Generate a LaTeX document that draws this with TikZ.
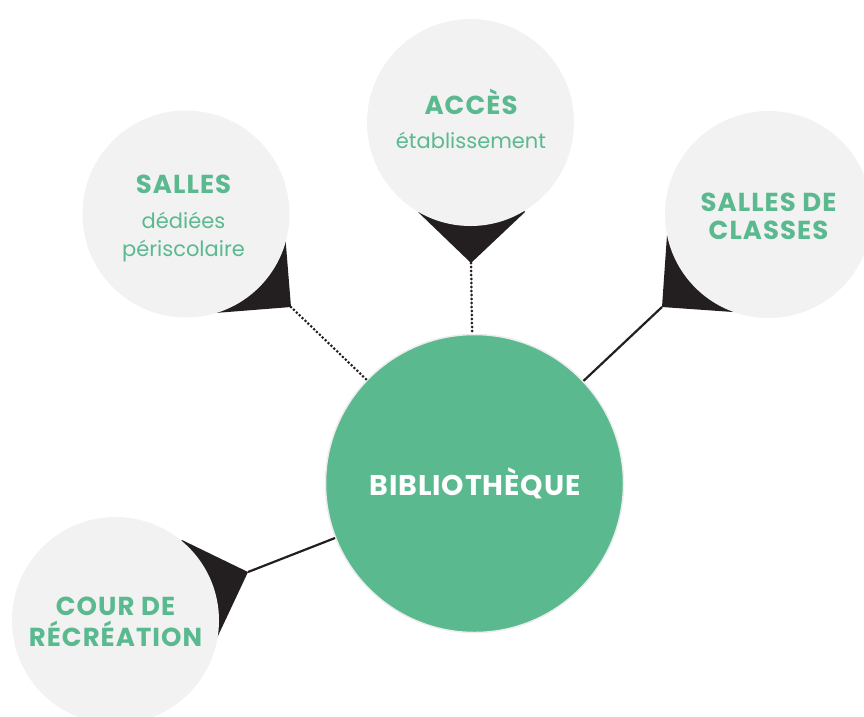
\documentclass[tikz,border=0pt]{standalone}
\usepackage{fontspec}
\setmainfont{Poppins}
\definecolor{vert}{HTML}{5AB98F}
\definecolor{gris}{HTML}{F2F2F2}
\definecolor{noir}{HTML}{231F20}
\definecolor{bord}{HTML}{ECECEC}
\tikzset{
  bubble/.style={circle, fill=gris, draw=none, minimum size=207pt, inner sep=0pt},
  central/.style={circle, fill=vert, draw=bord, line width=1.5pt, minimum size=298pt, inner sep=0pt},
  titre/.style={text=vert, font=\fontsize{26}{29}\selectfont\bfseries\addfontfeatures{LetterSpace=4}, anchor=base, inner sep=0pt},
  soustitre/.style={text=vert, font=\fontsize{21}{29}\selectfont, anchor=base, inner sep=0pt},
  pointer/.style={fill=noir},
  link/.style={draw=noir, line width=2.2pt},
  dotlink/.style={draw=noir, line width=3pt, line cap=round, dash pattern=on 0pt off 4pt},
}
\begin{document}
\begin{tikzpicture}[x=1pt,y=-1pt]
\useasboundingbox (0,0) rectangle (864,716);
% centres
\coordinate (cS) at (186,214);
\coordinate (cA) at (470.5,122.5);
\coordinate (cC) at (768.5,214.5);
\coordinate (cR) at (115.5,620.5);
% pointer tips
\coordinate (tS) at (291,307);
\coordinate (tA) at (471,263);
\coordinate (tC) at (662,307);
\coordinate (tR) at (248,572);
% pointers
\fill[pointer] (tS) -- (285,233) -- (cS) -- (215,313) -- cycle;
\fill[pointer] (tA) -- (418,212) -- (cA) -- (525,212) -- cycle;
\fill[pointer] (tC) -- (667,235) -- (cC) -- (733,312) -- cycle;
\fill[pointer] (tR) -- (182,540) -- (cR) -- (217,638) -- cycle;
% bubbles
\node[bubble] (salles) at (cS) {};
\node[bubble] (acces) at (cA) {};
\node[bubble] (classes) at (cC) {};
\node[bubble] (cour) at (cR) {};
% central
\node[central] (bib) at (474.5,483.5) {};
% connectors
\draw[dotlink] (tS) -- (bib);
\draw[dotlink] (tA) -- (bib);
\draw[link] (tC) -- (bib);
\draw[link] (tR) -- (bib);
% texts
\node[text=white, font=\fontsize{28.5}{30}\selectfont\bfseries\addfontfeatures{LetterSpace=3}, anchor=base, inner sep=0pt] (tbib) at (475,495) {BIBLIOTHÈQUE};
\node[titre] (tacces) at (471,114) {ACCÈS};
\node[soustitre] (tetab) at (471,148) {établissement};
\node[titre] (tsalles) at (183.5,193) {SALLES};
\node[soustitre] (tdediees) at (183.5,228) {dédiées};
\node[soustitre] (tperi) at (183.5,256) {périscolaire};
\node[titre] (tsallesde) at (768.5,211) {SALLES DE};
\node[titre] (tclasses) at (768.5,239) {CLASSES};
\node[titre] (tcourde) at (115.5,615) {COUR DE};
\node[titre] (trecre) at (115.5,646) {RÉCRÉATION};
\end{tikzpicture}
\end{document}
